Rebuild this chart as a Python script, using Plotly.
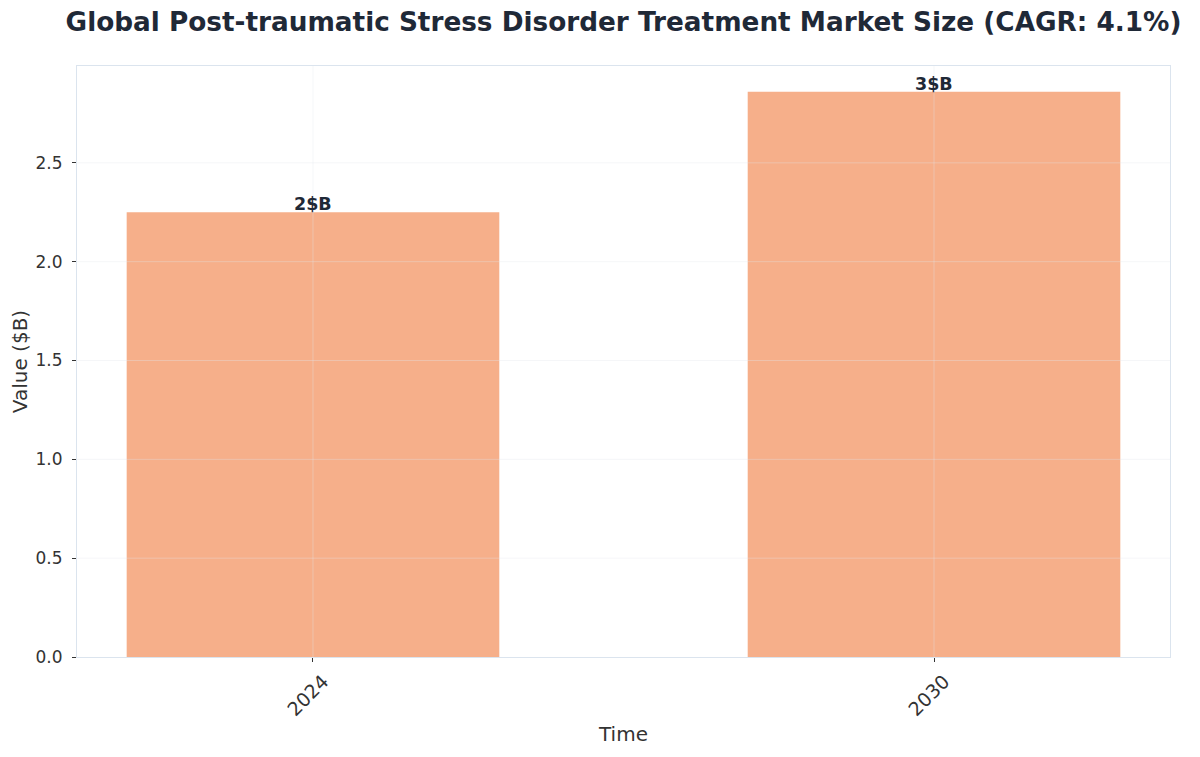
import plotly.graph_objects as go

years = ["2024", "2030"]
values = [2.25, 2.86]
labels = ["2$B", "3$B"]
grid_vals = [0.5, 1.0, 1.5, 2.0, 2.5]

fig = go.Figure()
fig.add_trace(go.Bar(
    x=years, y=values, width=0.6,
    marker=dict(color="#F6AF8A", line=dict(width=0)),
    hoverinfo="skip",
))

# value labels sitting on top of the bars (category axis -> use position index)
for i, (v, t) in enumerate(zip(values, labels)):
    fig.add_annotation(x=i, y=v, xref="x", yref="y", text="<b>" + t + "</b>",
                       showarrow=False, yanchor="bottom", yshift=-4,
                       font=dict(size=17.5, color="#1f2937", family="DejaVu Sans"))

# grid drawn over the bars, like the reference
for g in grid_vals:
    fig.add_shape(type="line", xref="paper", yref="y", x0=0, x1=1, y0=g, y1=g,
                  layer="above", line=dict(color="rgba(225,230,235,0.35)", width=1))
for i in range(len(years)):
    fig.add_shape(type="line", xref="x", yref="paper", x0=i, x1=i, y0=0, y1=1,
                  layer="above", line=dict(color="rgba(225,230,235,0.35)", width=1))

fig.update_layout(
    width=1200, height=757,
    paper_bgcolor="white", plot_bgcolor="white",
    margin=dict(l=69, r=38, t=58, b=108),
    font=dict(family="DejaVu Sans", color="#333333"),
    title=dict(text="<b>Global Post-traumatic Stress Disorder Treatment Market Size (CAGR: 4.1%)</b>",
               x=0.5, xref="paper", xanchor="center", y=0.982, yanchor="middle",
               font=dict(size=26.3, color="#1f2937")),
    showlegend=False,
)
fig.update_xaxes(
    type="category", range=[-0.38, 1.38], showgrid=False, tickangle=-45,
    automargin=False,
    ticks="outside", ticklen=4, tickcolor="#333333",
    ticklabelshift=10, ticklabelstandoff=1,
    tickfont=dict(size=19, color="#333333"),
    title=dict(text="Time", font=dict(size=20, color="#333333"), standoff=7),
    showline=True, linecolor="#dbe4ee", mirror=True, linewidth=1,
)
fig.update_yaxes(
    range=[0, 2.99], dtick=0.5, tickformat=".1f", showgrid=False, zeroline=False,
    automargin=False,
    ticks="outside", ticklen=4, tickcolor="#333333", ticklabelstandoff=6,
    tickfont=dict(size=17, color="#333333"),
    title=dict(text="Value ($B)", font=dict(size=20, color="#333333"), standoff=17),
    showline=True, linecolor="#dbe4ee", mirror=True, linewidth=1,
)

fig.write_html("out.html")
